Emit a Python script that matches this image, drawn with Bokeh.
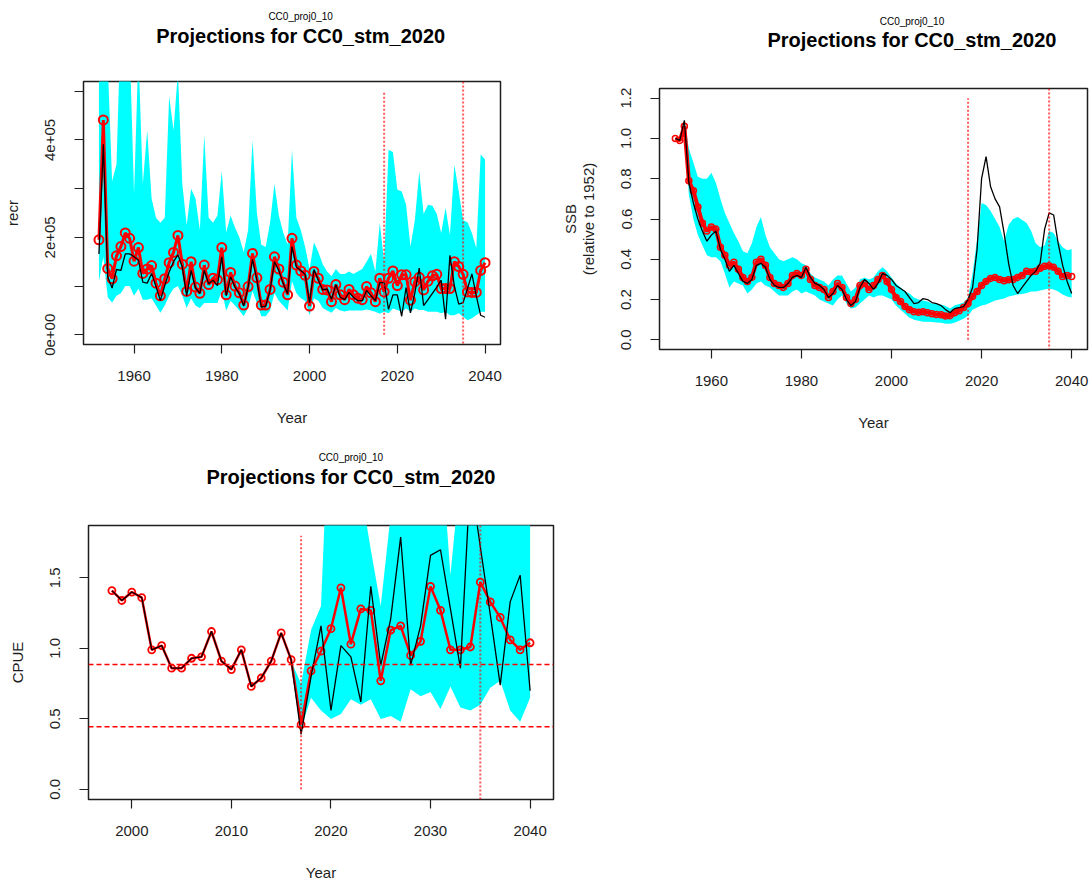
from bokeh.plotting import figure
from bokeh.layouts import column, row
from bokeh.models import Range1d, FixedTicker, Span, PrintfTickFormatter
from bokeh.core.properties import value
from bokeh.embed import file_html
from bokeh.resources import INLINE

FONT = "Liberation Sans"
CYAN = "#00FFFF"
RED = "#FF0000"
INK = "#1e1e1e"

RUN_NAME = "CC0_proj0_10"
TITLE = "Projections for CC0_stm_2020"

# projection period markers
proj_start = 2017
proj_end = 2035

# ---------------- recruitment ----------------
recr_years = list(range(1952, 2041))
recr_median = [
    195000, 441000, 136000, 115000, 162000, 181000, 209000, 198000, 151000, 179000,
    126000, 135000, 142000, 106000, 80000, 115000, 148000, 169000, 204000, 145000,
    89000, 150000, 98000, 85000, 143000, 103000, 116000, 113000, 179000, 82000,
    128000, 100000, 86000, 61000, 99000, 167000, 117000, 61000, 61000, 93000,
    160000, 135000, 108000, 82000, 198000, 143000, 131000, 122000, 59000, 130000,
    116000, 93000, 92000, 68000, 103000, 82000, 72000, 93000, 82000, 75000,
    72000, 99000, 86000, 68000, 116000, 88000, 116000, 131000, 101000, 123000,
    123000, 71000, 109000, 118000, 92000, 110000, 121000, 124000, 95000, 95000,
    95000, 150000, 140000, 124000, 88000, 87000, 87000, 132000, 148000]
recr_trace = [
    166000, 391000, 119000, 96000, 134000, 132000, 166000, 166000, 160000, 153000,
    108000, 106000, 126000, 99000, 70000, 101000, 129000, 150000, 164000, 139000,
    80000, 132000, 96000, 85000, 132000, 105000, 112000, 101000, 160000, 80000,
    119000, 98000, 84000, 59000, 98000, 155000, 112000, 57000, 59000, 91000,
    150000, 132000, 105000, 84000, 181000, 139000, 132000, 124000, 66000, 134000,
    112000, 92000, 94000, 73000, 103000, 77000, 72000, 87000, 77000, 70000,
    70000, 91000, 80000, 70000, 107000, 107000, 52000, 82000, 82000, 38000,
    97000, 45000, 86000, 137000, 60000, 72000, 85000, 98000, 112000, 32000,
    163000, 100000, 63000, 66000, 95000, 125000, 80000, 40000, 36000]
recr_upper = [
    700000, 700000, 560000, 315000, 350000, 650000, 650000, 600000, 290000, 580000,
    310000, 420000, 280000, 240000, 230000, 240000, 490000, 420000, 540000, 310000,
    225000, 300000, 280000, 215000, 410000, 240000, 230000, 245000, 335000, 210000,
    245000, 220000, 200000, 170000, 215000, 400000, 250000, 185000, 180000, 230000,
    310000, 245000, 210000, 185000, 380000, 240000, 215000, 180000, 135000, 190000,
    170000, 145000, 130000, 120000, 135000, 125000, 125000, 130000, 125000, 130000,
    135000, 150000, 166000, 130000, 230000, 150000, 380000, 375000, 298000, 294000,
    267000, 181000, 235000, 335000, 248000, 267000, 265000, 248000, 209000, 261000,
    205000, 349000, 294000, 235000, 231000, 209000, 178000, 370000, 360000]
recr_lower = [
    110000, 160000, 77000, 66000, 80000, 85000, 100000, 100000, 80000, 95000,
    72000, 72000, 75000, 60000, 45000, 60000, 80000, 95000, 100000, 80000,
    55000, 75000, 60000, 55000, 65000, 65000, 65000, 65000, 90000, 50000,
    70000, 60000, 50000, 38000, 55000, 90000, 65000, 38000, 38000, 50000,
    85000, 70000, 60000, 50000, 110000, 85000, 75000, 70000, 40000, 75000,
    70000, 55000, 50000, 45000, 55000, 50000, 48000, 50000, 50000, 50000,
    50000, 52000, 50000, 47000, 43000, 47000, 44000, 54000, 51000, 47000,
    54000, 47000, 54000, 51000, 51000, 47000, 47000, 47000, 44000, 47000,
    40000, 40000, 44000, 37000, 30000, 34000, 40000, 47000, 47000]

# ---------------- spawning biomass (relative to 1952) ----------------
ssb_years = list(range(1952, 2041))
ssb_median = [
    1.00, 0.99, 1.06, 0.79, 0.74, 0.66, 0.58, 0.54, 0.56, 0.55,
    0.46, 0.42, 0.37, 0.385, 0.35, 0.31, 0.29, 0.31, 0.385, 0.40,
    0.37, 0.31, 0.28, 0.27, 0.26, 0.28, 0.32, 0.33, 0.32, 0.35,
    0.30, 0.27, 0.26, 0.25, 0.21, 0.24, 0.28, 0.26, 0.21, 0.18,
    0.20, 0.27, 0.28, 0.25, 0.27, 0.30, 0.32, 0.29, 0.25, 0.21,
    0.19, 0.165, 0.15, 0.14, 0.137, 0.14, 0.135, 0.13, 0.126, 0.124,
    0.118, 0.12, 0.135, 0.145, 0.16, 0.18, 0.215, 0.24, 0.27, 0.29,
    0.305, 0.31, 0.30, 0.294, 0.298, 0.30, 0.31, 0.32, 0.34, 0.337,
    0.34, 0.355, 0.365, 0.368, 0.36, 0.34, 0.315, 0.32, 0.315]
ssb_trace = [
    1.00, 0.99, 1.09, 0.78, 0.68, 0.60, 0.54, 0.49, 0.52, 0.54,
    0.45, 0.40, 0.34, 0.37, 0.33, 0.29, 0.28, 0.30, 0.37, 0.38,
    0.36, 0.30, 0.27, 0.26, 0.26, 0.28, 0.31, 0.32, 0.31, 0.36,
    0.31, 0.28, 0.27, 0.25, 0.21, 0.23, 0.27, 0.25, 0.20, 0.17,
    0.19, 0.26, 0.30, 0.28, 0.25, 0.28, 0.33, 0.32, 0.30, 0.27,
    0.255, 0.24, 0.21, 0.18, 0.185, 0.205, 0.20, 0.185, 0.18, 0.17,
    0.15, 0.135, 0.155, 0.16, 0.165, 0.20, 0.26, 0.45, 0.80, 0.91,
    0.76, 0.70, 0.66, 0.53, 0.38, 0.27, 0.23, 0.26, 0.29, 0.32,
    0.34, 0.38, 0.55, 0.63, 0.62, 0.48, 0.37, 0.29, 0.23]
ssb_band_years = list(range(1954, 2041))
ssb_upper = [
    1.09, 0.95, 0.88, 0.81, 0.80, 0.80, 0.83, 0.78, 0.70, 0.63,
    0.58, 0.53, 0.49, 0.44, 0.43, 0.48, 0.56, 0.61, 0.52, 0.46,
    0.43, 0.40, 0.39, 0.40, 0.41, 0.40, 0.38, 0.37, 0.33, 0.31,
    0.30, 0.29, 0.27, 0.30, 0.32, 0.32, 0.28, 0.24, 0.26, 0.30,
    0.31, 0.30, 0.31, 0.34, 0.36, 0.34, 0.31, 0.28, 0.26, 0.24,
    0.23, 0.21, 0.20, 0.195, 0.19, 0.18, 0.178, 0.175, 0.168, 0.155,
    0.17, 0.178, 0.185, 0.21, 0.33, 0.50, 0.68, 0.67, 0.64, 0.60,
    0.56, 0.49, 0.57, 0.60, 0.61, 0.595, 0.58, 0.54, 0.48, 0.46,
    0.47, 0.54, 0.53, 0.49, 0.46, 0.445, 0.45]
ssb_lower = [
    1.05, 0.72, 0.60, 0.52, 0.47, 0.42, 0.41, 0.41, 0.39, 0.33,
    0.26, 0.29, 0.28, 0.27, 0.23, 0.25, 0.28, 0.29, 0.27, 0.26,
    0.24, 0.22, 0.22, 0.22, 0.24, 0.25, 0.23, 0.24, 0.23, 0.22,
    0.20, 0.19, 0.18, 0.17, 0.20, 0.22, 0.18, 0.155, 0.16, 0.18,
    0.20, 0.22, 0.21, 0.22, 0.22, 0.21, 0.20, 0.17, 0.15, 0.13,
    0.11, 0.10, 0.095, 0.09, 0.09, 0.088, 0.086, 0.085, 0.08, 0.08,
    0.085, 0.095, 0.105, 0.12, 0.15, 0.16, 0.17, 0.175, 0.185, 0.195,
    0.20, 0.205, 0.215, 0.22, 0.225, 0.228, 0.232, 0.24, 0.24, 0.245,
    0.25, 0.255, 0.25, 0.24, 0.225, 0.215, 0.21]

# ---------------- CPUE ----------------
cpue_years = list(range(1998, 2041))
cpue_median = [
    1.41, 1.34, 1.40, 1.36, 0.99, 1.02, 0.86, 0.86, 0.93, 0.94,
    1.12, 0.91, 0.85, 0.99, 0.73, 0.79, 0.91, 1.11, 0.92, 0.46,
    0.84, 0.98, 1.14, 1.43, 1.03, 1.28, 1.27, 0.77, 1.13, 1.16,
    0.95, 1.05, 1.44, 1.27, 0.99, 0.99, 1.01, 1.47, 1.33, 1.22,
    1.06, 0.99, 1.04]
cpue_trace = [
    1.41, 1.34, 1.40, 1.36, 0.99, 1.02, 0.86, 0.86, 0.93, 0.94,
    1.12, 0.91, 0.85, 0.99, 0.73, 0.79, 0.91, 1.11, 0.92, 0.39,
    0.80, 1.16, 0.56, 1.02, 0.94, 0.62, 1.44, 0.88, 1.21, 1.79,
    0.88, 1.16, 1.66, 1.70, 1.28, 0.86, 2.22, 1.72, 1.24, 0.74,
    1.33, 1.52, 0.70]
cpue_band_years = list(range(2016, 2041))
cpue_upper = [
    0.91, 0.75, 1.13, 1.30, 3.0, 3.0, 3.0, 2.13, 1.70, 1.30,
    1.95, 3.0, 3.0, 3.0, 3.0, 2.5, 1.52, 2.25, 3.0, 3.0,
    3.0, 3.0, 3.0, 3.0, 3.0]
cpue_lower = [
    0.91, 0.43, 0.65, 0.56, 0.50, 0.535, 0.64, 0.60, 0.64, 0.50,
    0.52, 0.48, 0.71, 0.66, 0.69, 0.57, 0.73, 0.58, 0.56, 0.60,
    0.72, 0.77, 0.56, 0.48, 0.65]
cpue_ref_high = 0.885
cpue_ref_low = 0.445


def make_panel(width, height, xr, yr, borders):
    left, right, top, bottom = borders
    p = figure(width=width, height=height,
               x_range=Range1d(*xr), y_range=Range1d(*yr),
               output_backend="svg", toolbar_location=None,
               min_border_left=left, min_border_right=right,
               min_border_top=top, min_border_bottom=bottom)
    p.grid.visible = False
    p.outline_line_color = INK
    p.outline_line_width = 1.5
    p.background_fill_color = "white"
    p.border_fill_color = "white"
    for ax in list(p.xaxis) + list(p.yaxis):
        ax.axis_line_color = None
        ax.major_tick_in = 0
        ax.major_tick_out = 9
        ax.minor_tick_in = 0
        ax.major_tick_line_color = INK
        ax.minor_tick_line_color = INK
        ax.major_tick_line_width = 1.2
        ax.minor_tick_line_width = 1.2
        ax.major_label_text_font = FONT
        ax.major_label_text_font_size = "15px"
        ax.major_label_text_color = INK
        ax.axis_label_text_font = FONT
        ax.axis_label_text_font_size = "15px"
        ax.axis_label_text_font_style = "normal"
        ax.axis_label_text_color = INK
        ax.axis_label_text_line_height = 1.05
    p.xaxis.minor_tick_out = 0
    p.yaxis.minor_tick_out = 9
    p.xaxis.major_label_standoff = 17
    p.xaxis.axis_label_standoff = 25
    p.yaxis.major_label_standoff = 19
    p.yaxis.major_label_orientation = "vertical"
    p.xaxis.axis_label = "Year"
    return p


def title_strip(width, height, x_center, small_y, big_y):
    """A bare strip above a panel carrying the run name and the main title."""
    t = figure(width=width, height=height, x_range=Range1d(0, width),
               y_range=Range1d(0, height), x_axis_type=None, y_axis_type=None,
               output_backend="svg", toolbar_location=None,
               min_border_left=0, min_border_right=0, min_border_top=0, min_border_bottom=0)
    t.grid.visible = False
    t.outline_line_color = None
    t.background_fill_color = "white"
    t.border_fill_color = "white"
    t.text(x=[x_center], y=[height - small_y], text=[RUN_NAME],
           text_align="center", text_baseline="middle",
           text_font=value(FONT), text_font_size=value("10px"), text_color="black")
    t.text(x=[x_center], y=[height - big_y], text=[TITLE],
           text_align="center", text_baseline="middle",
           text_font=value(FONT), text_font_size=value("20px"),
           text_font_style="bold", text_color="black")
    return t


def add_markers(p, y_top):
    p.line([proj_start, proj_start], [0, y_top], line_color=RED, line_alpha=0.65,
           line_width=2, line_dash="2 2")
    p.add_layout(Span(location=proj_end, dimension="height", line_color=RED,
                      line_alpha=0.65, line_width=2, line_dash="2 2"))


STRIP = 60

# ---- panel 1: recruitment ----
X_LONG = (1948.48, 2043.52)
R_Y = (-20000, 520000)
p1 = make_panel(555, 440 - STRIP, X_LONG, R_Y, (83, 55, 81 - STRIP, 96))
p1.xaxis.ticker = FixedTicker(ticks=[1960, 1980, 2000, 2020, 2040])
p1.yaxis.ticker = FixedTicker(ticks=[0, 200000, 400000], minor_ticks=[100000, 300000, 500000])
p1.yaxis.major_label_overrides = {0: "0e+00", 200000: "2e+05", 400000: "4e+05"}
p1.yaxis.axis_label = "recr"
p1.yaxis.axis_label_standoff = 22
p1.varea(x=recr_years, y1=recr_lower, y2=recr_upper, fill_color=CYAN)
p1.line(recr_years, recr_median, line_color=RED, line_width=3)
p1.scatter(recr_years, recr_median, marker="circle", size=9, line_color=RED,
           fill_color=None, line_width=2)
p1.line(recr_years, recr_trace, line_color="black", line_width=1.3)
add_markers(p1, 500000)
t1 = title_strip(555, STRIP, 289, 16, 35)

# ---- panel 2: SSB ----
S_Y = (-0.048, 1.248)
p2 = make_panel(534, 440 - STRIP, X_LONG, S_Y, (104, 2, 88 - STRIP, 91))
p2.xaxis.ticker = FixedTicker(ticks=[1960, 1980, 2000, 2020, 2040])
p2.yaxis.ticker = FixedTicker(ticks=[0.0, 0.2, 0.4, 0.6, 0.8, 1.0, 1.2])
p2.yaxis.formatter = PrintfTickFormatter(format="%.1f")
p2.yaxis.axis_label = "SSB\n(relative to 1952)"
p2.yaxis.axis_label_standoff = 22
p2.varea(x=ssb_band_years, y1=ssb_lower, y2=ssb_upper, fill_color=CYAN)
p2.line(ssb_years, ssb_median, line_color=RED, line_width=4)
p2.scatter(ssb_years, ssb_median, marker="circle", size=6, line_color=RED,
           fill_color=None, line_width=1.5)
p2.line(ssb_years, ssb_trace, line_color="black", line_width=1.3)
add_markers(p2, 1.2)
t2 = title_strip(534, STRIP, 315, 21, 39)

# ---- panel 3: CPUE ----
X_SHORT = (1995.65, 2042.35)
C_Y = (-0.072, 1.872)
p3 = make_panel(560, 443 - STRIP, X_SHORT, C_Y, (88, 7, 85 - STRIP, 80))
p3.xaxis.ticker = FixedTicker(ticks=[2000, 2010, 2020, 2030, 2040])
p3.yaxis.ticker = FixedTicker(ticks=[0.0, 0.5, 1.0, 1.5])
p3.yaxis.formatter = PrintfTickFormatter(format="%.1f")
p3.yaxis.axis_label = "CPUE"
p3.yaxis.axis_label_standoff = 22
p3.varea(x=cpue_band_years, y1=cpue_lower, y2=cpue_upper, fill_color=CYAN)
p3.line(cpue_years, cpue_median, line_color=RED, line_width=2.5)
p3.scatter(cpue_years, cpue_median, marker="circle", size=7, line_color=RED,
           fill_color=None, line_width=1.8)
p3.line(cpue_years, cpue_trace, line_color="black", line_width=1.3)
for level in (cpue_ref_high, cpue_ref_low):
    p3.add_layout(Span(location=level, dimension="width", line_color=RED,
                       line_width=1.5, line_dash="5 3"))
add_markers(p3, 1.8)
t3 = title_strip(560, STRIP, 316, 17, 36)

layout = column(row(column(t1, p1), column(t2, p2)), column(t3, p3))
open("out.html", "w").write(file_html(layout, INLINE))
